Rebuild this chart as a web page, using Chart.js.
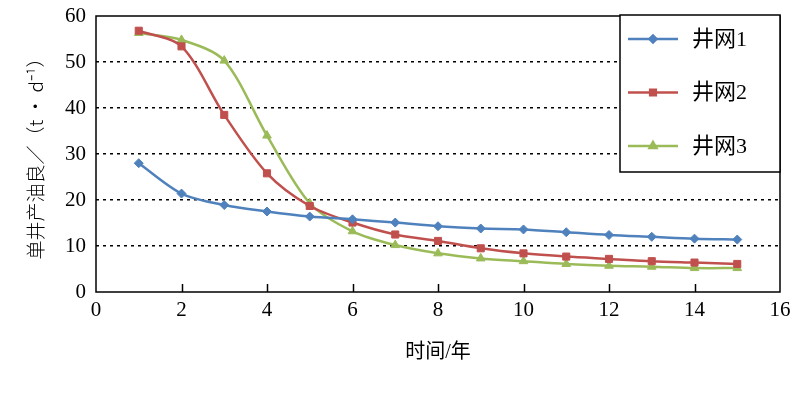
<!DOCTYPE html>
<html>
<head>
<meta charset="utf-8">
<script src="https://cdn.jsdelivr.net/npm/chart.js@4/dist/chart.umd.min.js"></script>
<style>
  body { margin: 0; background: #fff; }
  canvas { display: block; }
</style>
</head>
<body>
<canvas id="chart" width="800" height="395"></canvas>
<script>
// data
const years = [1, 2, 3, 4, 5, 6, 7, 8, 9, 10, 11, 12, 13, 14, 15];
const well1 = [28.0, 21.4, 18.9, 17.5, 16.4, 15.8, 15.1, 14.3, 13.8, 13.6, 13.0, 12.4, 12.0, 11.6, 11.4];
const well2 = [56.8, 53.4, 38.5, 25.8, 18.7, 15.1, 12.5, 11.1, 9.5, 8.4, 7.7, 7.2, 6.7, 6.4, 6.1];
const well3 = [56.3, 54.8, 50.3, 34.0, 19.3, 13.2, 10.2, 8.4, 7.3, 6.7, 6.1, 5.7, 5.5, 5.2, 5.2];
const seriesNames = ["井网1", "井网2", "井网3"];
const xTicks = [0, 2, 4, 6, 8, 10, 12, 14, 16];
const yTicks = [0, 10, 20, 30, 40, 50, 60];

const FONT = '"Liberation Serif", "Noto Sans CJK SC", serif';
const colors = ["#4F81BD", "#C0504D", "#9BBB59"];
const styles = ["rectRot", "rect", "triangle"];
const radii = [4.5, 5, 5];

const toPoints = vals => years.map((x, i) => ({ x: x, y: vals[i] }));

const datasets = [well1, well2, well3].map((vals, i) => ({
    label: seriesNames[i],
    data: toPoints(vals),
    borderColor: colors[i],
    backgroundColor: colors[i],
    borderWidth: 2.5,
    pointStyle: styles[i],
    pointRadius: radii[i],
    pointBorderWidth: 1,
    tension: 0.3
}));

// frame, inward x ticks and the boxed legend
const decorations = {
    id: "decorations",
    afterDraw(chart) {
        const ctx = chart.ctx;
        const area = chart.chartArea;
        const xs = chart.scales.x;
        ctx.save();
        ctx.strokeStyle = "#000";
        ctx.lineWidth = 1.5;
        ctx.strokeRect(area.left, area.top, area.right - area.left, area.bottom - area.top);

        xTicks.slice(1, -1).forEach(v => {
            const px = Math.round(xs.getPixelForValue(v)) + 0.5;
            ctx.beginPath();
            ctx.moveTo(px, area.bottom);
            ctx.lineTo(px, area.bottom - 8);
            ctx.stroke();
        });

        // legend box
        const lx = 620, ly = area.top - 1, lw = area.right - 620, lh = 157;
        ctx.fillStyle = "#fff";
        ctx.fillRect(lx, ly, lw, lh);
        ctx.strokeStyle = "#000";
        ctx.lineWidth = 1.5;
        ctx.strokeRect(lx, ly, lw, lh);
        chart.data.datasets.forEach((ds, i) => {
            const y = ly + 24 + i * 53.5;
            ctx.strokeStyle = ds.borderColor;
            ctx.lineWidth = 2.5;
            ctx.beginPath();
            ctx.moveTo(628, y);
            ctx.lineTo(678, y);
            ctx.stroke();
            Chart.helpers.drawPoint(ctx, {
                pointStyle: ds.pointStyle,
                radius: ds.pointRadius - 1,
                borderWidth: 1,
                rotation: 0
            }, 653, y);
            ctx.fillStyle = ds.borderColor;
            ctx.fill();
            ctx.fillStyle = "#000";
            ctx.font = '22px ' + FONT;
            ctx.textBaseline = "middle";
            ctx.textAlign = "left";
            ctx.fillText(ds.label, 692, y + 1);
        });
        ctx.restore();
    }
};

new Chart(document.getElementById("chart"), {
    type: "line",
    data: { datasets: datasets },
    options: {
        responsive: false,
        animation: false,
        layout: { padding: { top: 16, right: 20, left: 0, bottom: 0 } },
        plugins: { legend: { display: false }, tooltip: { enabled: false } },
        scales: {
            x: {
                type: "linear",
                min: 0,
                max: 16,
                afterBuildTicks: s => { s.ticks = xTicks.map(v => ({ value: v })); },
                afterFit: s => { s.height = 103; },
                grid: { display: false, drawTicks: false },
                border: { display: false },
                ticks: { color: "#000", font: { family: FONT, size: 21 }, padding: 6, maxRotation: 0 },
                title: {
                    display: true,
                    text: "时间/年",
                    color: "#000",
                    font: { family: FONT, size: 20 },
                    padding: { top: 0, bottom: 30 }
                }
            },
            y: {
                min: 0,
                max: 60,
                afterBuildTicks: s => { s.ticks = yTicks.map(v => ({ value: v })); },
                afterFit: s => { s.width = 96; s.paddingTop = 0; s.paddingBottom = 0; },
                grid: {
                    drawTicks: false,
                    color: c => (c.tick && (c.tick.value === 0 || c.tick.value === 60)) ? "rgba(0,0,0,0)" : "#000",
                    lineWidth: 1.5
                },
                border: { display: false, dash: [3, 4] },
                ticks: { color: "#000", font: { family: FONT, size: 21 }, padding: 10 },
                title: {
                    display: true,
                    text: "单井产油良／（t • d⁻¹）",
                    color: "#000",
                    font: { family: '"Noto Sans CJK SC", "Liberation Serif", serif', size: 19, weight: 300 },
                    padding: { top: 24, bottom: 22 }
                }
            }
        }
    },
    plugins: [decorations]
});
</script>
</body>
</html>
